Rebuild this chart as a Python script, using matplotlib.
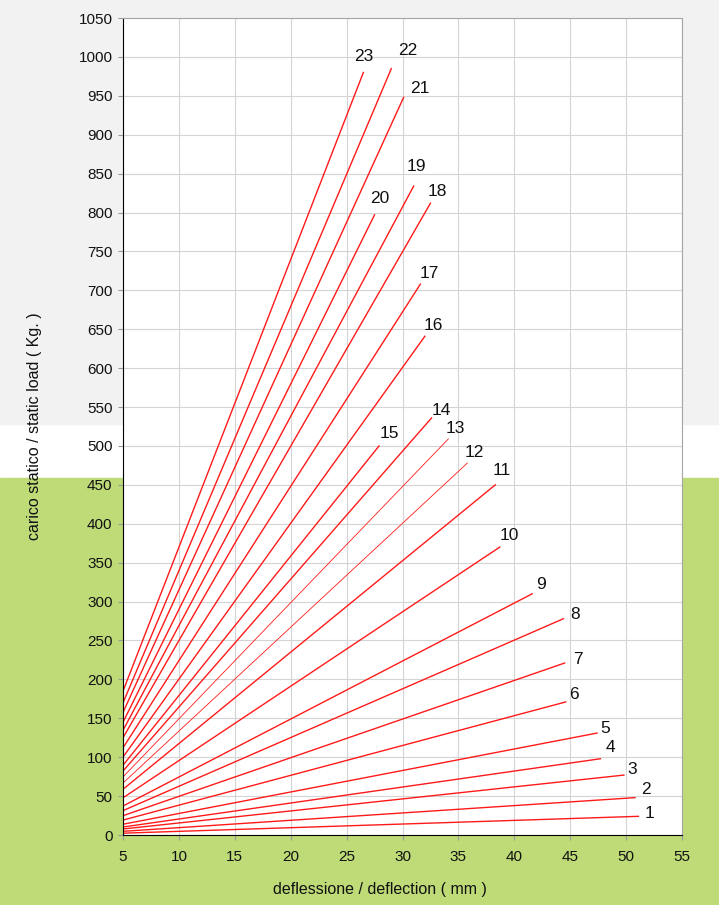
import matplotlib.pyplot as plt
from matplotlib.patches import Rectangle

plt.rcParams["font.family"] = ["Liberation Sans", "DejaVu Sans"]

# curve number, end deflection (mm), end load (kg); every curve starts at origin
CURVES = list(range(1, 24))
END_DEFL = [51.1, 50.8, 49.8, 47.7, 47.4, 44.6, 44.5, 44.4, 41.6, 38.7, 38.3, 35.8,
            34.1, 32.6, 27.9, 32.0, 31.6, 32.5, 31.0, 27.5, 30.1, 29.0, 26.5]
END_LOAD = [24, 48, 77, 98, 131, 171, 221, 278, 310, 370, 450, 478,
            509, 536, 500, 641, 708, 812, 834, 797, 948, 985, 980]
THIN = {12, 13}

XTICKS = list(range(5, 56, 5))
YTICKS = list(range(0, 1051, 50))

# label centre offset from line end, in pixels (right, down)
LABEL_OFF = [(11, -3), (11, -8), (8, -6), (10, -11), (8, -5), (8, -7), (13, -4),
             (12, -4), (9, -9), (10, -12), (6, -14), (7, -11), (7, -10), (10, -7),
             (10, -12), (8, -11), (9, -11), (7, -12), (3, -20), (5, -16), (16, -9),
             (16, -18), (0, -16)]

W, H = 719, 905
fig = plt.figure(figsize=(W / 100, H / 100), dpi=100)
fig.patch.set_facecolor("white")
# background bands
fig.patches.append(Rectangle((0, 1 - 424 / H), 1, 424 / H, transform=fig.transFigure,
                             color="#f2f2f2", zorder=-10))
fig.patches.append(Rectangle((0, 0), 1, 1 - 478 / H, transform=fig.transFigure,
                             color="#bedb78", zorder=-10))

ax = fig.add_axes([123 / W, 1 - 835 / H, (682 - 123) / W, (835 - 18) / H])
ax.set_facecolor("white")

for n, xd, yl, (dx, dy) in zip(CURVES, END_DEFL, END_LOAD, LABEL_OFF):
    lw = 0.6 if n in THIN else 1.0
    ax.plot([0, xd], [0, yl], color="#ff1a1a", lw=lw, clip_on=True)
    ax.annotate(str(n), (xd, yl), xytext=(dx * 0.72, -dy * 0.72), textcoords="offset points",
                fontsize=12.5, ha="center", va="center", color="#111111")

ax.set_xlim(5, 55)
ax.set_ylim(0, 1050)
ax.set_xticks(XTICKS)
ax.set_yticks(YTICKS)
ax.grid(True, color="#d4d4d4", lw=0.8)
ax.set_axisbelow(True)
ax.tick_params(labelsize=11, length=3.5, color="#999999", pad=4, labelcolor="#111111")
ax.tick_params(axis="x", pad=7)

for s in ("top", "right"):
    ax.spines[s].set_color("#a6a6a6")
for s in ("left", "bottom"):
    ax.spines[s].set_color("black")

ax.set_xlabel("deflessione / deflection ( mm )", fontsize=11.5, color="#111111")
ax.xaxis.set_label_coords((380 - 123) / (682 - 123), -0.058)
ax.set_ylabel("carico statico / static load ( Kg. )", fontsize=11.5, color="#111111")
ax.yaxis.set_label_coords(-0.145, 0.5)

fig.savefig("out.png", dpi=100, facecolor=fig.get_facecolor())
